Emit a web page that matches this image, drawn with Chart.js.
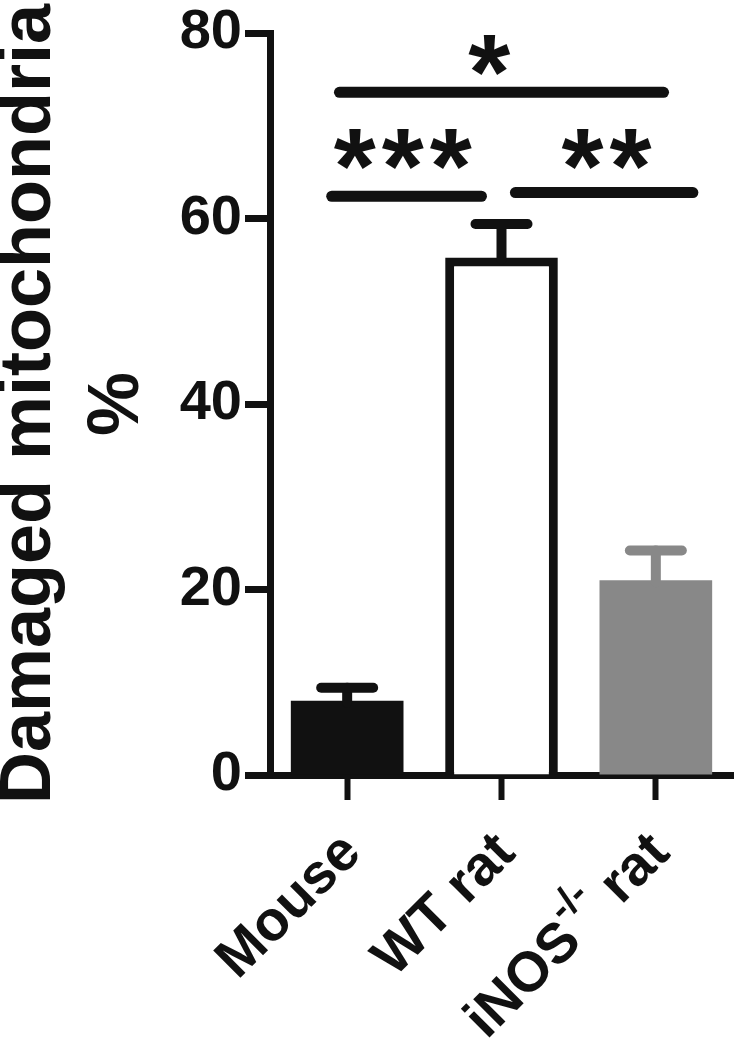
<!DOCTYPE html>
<html><head><meta charset="utf-8">
<script src="https://cdn.jsdelivr.net/npm/chart.js@4"></script>
<style>html,body{margin:0;padding:0;background:#fff;} canvas{display:block;}</style>
</head><body>
<canvas id="c" width="737" height="1042"></canvas>
<script>
const categories = ['Mouse', 'WT rat', 'iNOS-/- rat'];
const meanValues = [8.0, 55.8, 21.0];
const errorValues = [1.4, 3.6, 3.2];
const yTicks = [0, 20, 40, 60, 80];
const sigLabels = ['*', '***', '**'];
const sigLineFrom = [-0.05, -0.10, 1.09];
const sigLineTo = [2.05, 0.87, 2.24];
const sigLineY = [73.6, 62.4, 62.8];
const sigTextX = [0.92, 0.36, 1.68];
const sigTextY = [71.8, 61.7, 61.7];

const FONT = "'Liberation Sans', Arial, 'DejaVu Sans', sans-serif";
const INK = '#111111';
const barFill = [INK, '#ffffff', '#888888'];
const barBorder = [INK, INK, '#888888'];
const barBorderW = [0, 9, 0];
const errColor = [INK, INK, '#888888'];

const errorBarPlugin = {
  id: 'errorBars',
  afterDatasetsDraw(chart) {
    const {ctx, scales: {x, y}} = chart;
    ctx.save();
    ctx.lineCap = 'round';
    ctx.lineWidth = 10;
    meanValues.forEach((m, i) => {
      const px = x.getPixelForValue(i);
      const yb = y.getPixelForValue(m);
      const yt = y.getPixelForValue(m + errorValues[i]);
      ctx.strokeStyle = errColor[i];
      ctx.beginPath();
      ctx.moveTo(px, yb + 2);
      ctx.lineTo(px, yt);
      ctx.stroke();
      ctx.beginPath();
      ctx.moveTo(px - 26, yt);
      ctx.lineTo(px + 26, yt);
      ctx.stroke();
    });
    ctx.restore();
  }
};

const sigPlugin = {
  id: 'significance',
  afterDatasetsDraw(chart) {
    const {ctx, scales: {x, y}} = chart;
    ctx.save();
    ctx.strokeStyle = INK;
    ctx.fillStyle = INK;
    ctx.lineCap = 'round';
    ctx.lineWidth = 11;
    sigLabels.forEach((lab, i) => {
      const yy = y.getPixelForValue(sigLineY[i]);
      ctx.beginPath();
      ctx.moveTo(x.getPixelForValue(sigLineFrom[i]), yy);
      ctx.lineTo(x.getPixelForValue(sigLineTo[i]), yy);
      ctx.stroke();
      ctx.font = 'bold 108px ' + FONT;
      ctx.textAlign = 'center';
      ctx.textBaseline = 'alphabetic';
      const cx = x.getPixelForValue(sigTextX[i]);
      const ty = y.getPixelForValue(sigTextY[i]);
      const n = lab.length, gap = 48;
      for (let k = 0; k < n; k++) {
        ctx.fillText('*', cx + (k - (n - 1) / 2) * gap, ty);
      }
    });
    ctx.restore();
  }
};

// category labels rotated 45 degrees, with "-/-" drawn as superscript
const labelPlugin = {
  id: 'richLabels',
  afterDraw(chart) {
    const {ctx, scales: {x}} = chart;
    ctx.save();
    ctx.fillStyle = INK;
    ctx.textAlign = 'left';
    ctx.textBaseline = 'alphabetic';
    categories.forEach((lab, i) => {
      const m = lab.match(/^(.*?)(-\/-)(.*)$/);
      const parts = m ? [[m[1], 56, 0], [m[2], 40, -28], [m[3], 56, 0]] : [[lab, 56, 0]];
      let total = 0;
      parts.forEach(p => {
        ctx.font = 'bold ' + p[1] + 'px ' + FONT;
        p.push(ctx.measureText(p[0]).width);
        total += p[3];
      });
      ctx.save();
      ctx.translate(x.getPixelForValue(i) + 16, x.top + 80);
      ctx.rotate(-Math.PI / 4);
      let cx = -total;
      parts.forEach(p => {
        ctx.font = 'bold ' + p[1] + 'px ' + FONT;
        ctx.fillText(p[0], cx, p[2]);
        cx += p[3];
      });
      ctx.restore();
    });
    ctx.restore();
  }
};

new Chart(document.getElementById('c'), {
  type: 'bar',
  data: {
    labels: categories,
    datasets: [{
      data: meanValues,
      backgroundColor: barFill,
      borderColor: barBorder,
      borderWidth: barBorderW,
      borderSkipped: 'start',
      barPercentage: 0.73,
      categoryPercentage: 1.0
    }]
  },
  options: {
    responsive: false,
    animation: false,
    devicePixelRatio: 1,
    layout: {padding: {top: 33, right: 4, left: 0, bottom: 0}},
    plugins: {legend: {display: false}, tooltip: {enabled: false}},
    scales: {
      x: {
        type: 'category',
        afterFit(s) { s.height = 267; },
        border: {display: true, color: INK, width: 7},
        grid: {display: true, offset: false, drawOnChartArea: false, drawTicks: true, tickLength: 25, tickWidth: 6, tickColor: INK, color: INK},
        ticks: {display: false, autoSkip: false}
      },
      y: {
        min: 0, max: 80,
        afterFit(s) { s.width = 270; },
        afterBuildTicks(s) { s.ticks = yTicks.map(v => ({value: v})); },
        border: {display: true, color: INK, width: 7},
        grid: {display: true, drawOnChartArea: false, drawTicks: true, tickLength: 25, tickWidth: 7, tickColor: INK, color: INK},
        ticks: {
          color: INK, padding: 3,
          font: {family: FONT, weight: 'bold', size: 56, lineHeight: 1.0}
        },
        title: {
          display: true,
          text: ['Damaged mitochondria', '%'],
          color: INK,
          padding: {top: -14, bottom: 0},
          font: {family: FONT, weight: 'bold', size: 72, lineHeight: '88px'}
        }
      }
    }
  },
  plugins: [errorBarPlugin, sigPlugin, labelPlugin]
});
</script>
</body></html>
